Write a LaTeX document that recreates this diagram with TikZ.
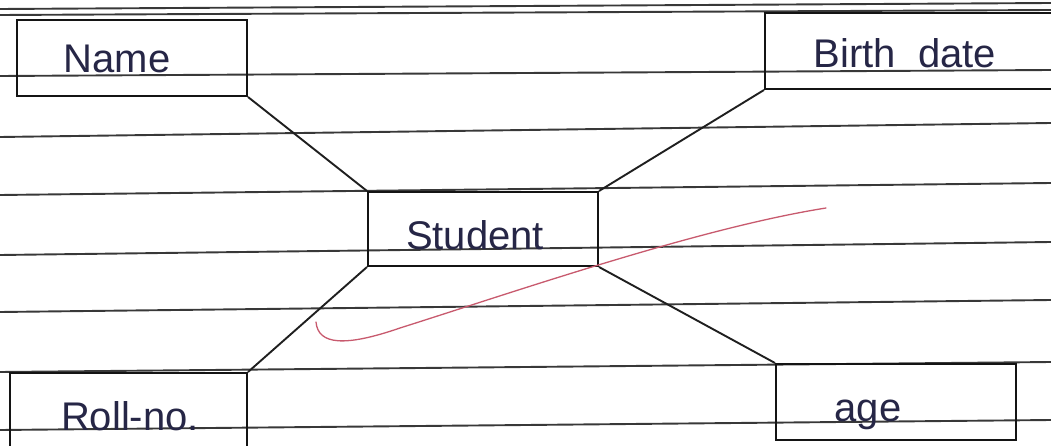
\documentclass[tikz,border=0pt]{standalone}
\usepackage{fontspec}
\setmainfont{Liberation Sans}
\definecolor{penred}{RGB}{200,90,110}
\definecolor{ink}{RGB}{38,38,70}
\begin{document}
\begin{tikzpicture}[x=1pt,y=-1pt,
  rule/.style={draw=black!78,line width=1.9pt},
  entity/.style={draw=black!92,line width=2pt,rectangle,inner sep=0pt,anchor=north west},
  link/.style={draw=black!88,line width=1.9pt},
  hand/.style={anchor=base,text=ink,font=\fontsize{40}{44}\selectfont,inner sep=0pt}]
\useasboundingbox (0,0) rectangle (1051,446);
\clip (0,0) rectangle (1051,446);
\fill[white] (0,0) rectangle (1051,446);
% ruled paper lines
\foreach \a/\b in {9/3,15/10,76/70,137/123,195/183,255/242,312/300,372/362,430/420}
  \draw[rule] (0,\a) -- (1051,\b);
% entities
\node[entity,minimum width=230pt,minimum height=76pt] (name) at (16,19) {};
\node[entity,minimum width=400pt,minimum height=76pt] (birth) at (764,12) {};
\node[entity,minimum width=230pt,minimum height=74pt] (student) at (367,191) {};
\node[entity,minimum width=237pt,minimum height=90pt] (roll) at (9,372) {};
\node[entity,minimum width=240pt,minimum height=76pt] (age) at (775,363) {};
% labels
\node[hand] (nameT) at (117,73) {Name};
\node[hand] (birthT) at (905,68) {Birth\hspace{22pt}date};
\node[hand] (studentT) at (475,250) {Student};
\node[hand] (rollT) at (130,430) {Roll-no.};
\node[hand] (ageT) at (868,421) {age};
% connectors
\draw[link] (name.south east) -- (student.north west);
\draw[link] (birth.south west) -- (student.north east);
\draw[link] (student.south west) -- (roll.north east);
\draw[link] (student.south east) -- (age.north west);
% red pen stroke
\draw[penred,line width=1.3pt,line cap=round]
  (826,208) .. controls (700,228) and (520,290) .. (400,328)
  .. controls (345,347) and (318,345) .. (316,322);
\end{tikzpicture}
\end{document}
